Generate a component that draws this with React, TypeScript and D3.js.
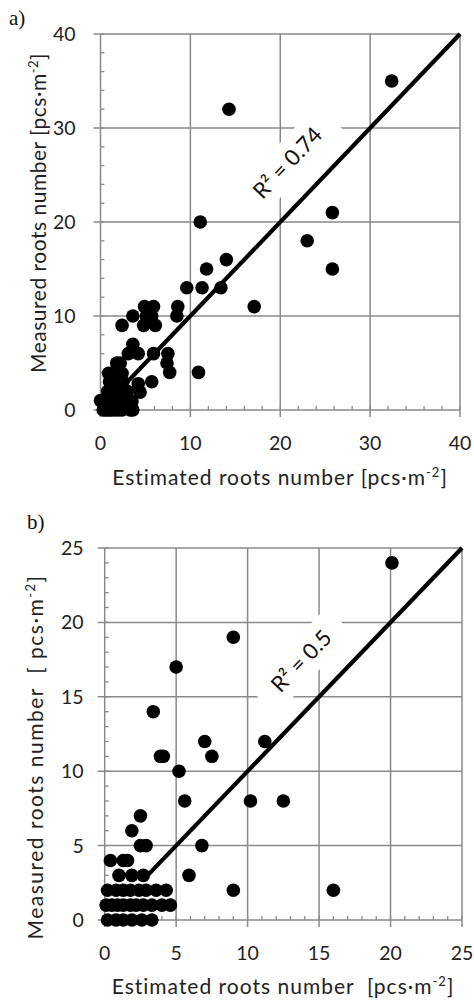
import React, { useRef, useEffect } from 'react';
import * as d3 from 'd3';

type Pt = [number, number];

// panel a) estimated vs measured roots number
const rootsA: Pt[] = [
  [0, 1], [0.3, 0], [0.6, 0], [0.9, 0], [1.2, 0], [1.6, 0], [2, 0], [2.4, 0], [3.3, 0], [3.6, 0],
  [0.5, 1], [1, 1], [1.5, 1], [2, 1], [3.2, 1], [3.5, 0.9],
  [0.8, 2], [1.2, 2], [1.7, 2], [2.2, 2], [3, 2], [4.4, 1.9],
  [1, 3], [1.5, 3], [2, 3], [2.5, 3], [4.2, 2.8], [5.7, 3],
  [0.9, 3.9], [1.5, 4], [2.4, 3.9], [1.8, 5], [2.2, 5],
  [3.1, 6], [4.2, 6], [5.9, 6], [7.5, 6], [3.6, 7], [7.4, 5], [7.7, 4], [10.9, 4],
  [2.4, 9], [4.8, 9], [6.1, 9], [3.6, 10], [5.1, 10], [5.7, 10], [8.5, 10],
  [4.9, 11], [5.9, 11], [8.6, 11], [17.1, 11],
  [9.6, 13], [11.3, 13], [13.4, 13], [11.8, 15], [14, 16], [25.8, 15],
  [11.1, 20], [23, 18], [25.8, 21], [14.3, 32], [32.4, 35],
];
const trendA: Pt[] = [[3, 3], [40, 40]];
const ticksA = [0, 10, 20, 30, 40];
const minorA = d3.range(0, 40.1, 2);
const r2A = 'R² = 0.74';
const r2PosA: Pt = [20.8, 26.3];

// panel b)
const rootsB: Pt[] = [
  [0.2, 0], [0.8, 0], [1.3, 0], [1.9, 0], [2.6, 0], [3.3, 0],
  [0.1, 1], [0.5, 1], [0.9, 1], [1.3, 1], [1.8, 1], [2.2, 1], [2.7, 1], [3.3, 1], [4, 1], [4.6, 1],
  [0.2, 2], [0.8, 2], [1.3, 2], [1.8, 2], [2.4, 2], [2.9, 2], [3.6, 2], [4.3, 2], [9, 2], [16, 2],
  [1, 3], [1.9, 3], [2.7, 3], [5.9, 3],
  [0.4, 4], [1.3, 4], [1.6, 4],
  [2.5, 5], [2.9, 5], [6.8, 5], [1.9, 6], [2.5, 7],
  [5.6, 8], [10.2, 8], [12.5, 8], [5.2, 10],
  [3.9, 11], [4.1, 11], [7.5, 11], [7, 12], [11.2, 12],
  [3.4, 14], [5, 17], [9, 19], [20.1, 24],
];
const trendB: Pt[] = [[3, 3], [25, 25]];
const ticksB = [0, 5, 10, 15, 20, 25];
const minorB = d3.range(0, 25.1, 1);
const r2B = 'R² = 0.5';
const r2PosB: Pt = [13.75, 17.4];

const FONT = 'Lato, "Open Sans", sans-serif';
const GRID = '#8a8a8a';

const panels = [
  {
    letter: 'a)', letterX: 9, letterY: 25,
    data: rootsA, trend: trendA, ticks: ticksA, minor: minorA, max: 40, r2: r2A, r2Pos: r2PosA,
    x0: 100.5, x1: 460, y0: 410, y1: 34, yLabelGap: 25,
    xTitle: ['Estimated roots number [pcs·m', ']'], xTitleX: 280, xTitleY: 485, xTitleW: 336,
    yTitle: ['Measured roots number [pcs·m', ']'], yTitleX: 46, yTitleY: 213, yTitleW: 320,
  },
  {
    letter: 'b)', letterX: 27, letterY: 529,
    data: rootsB, trend: trendB, ticks: ticksB, minor: minorB, max: 25, r2: r2B, r2Pos: r2PosB,
    x0: 104.7, x1: 462, y0: 920, y1: 548, yLabelGap: 21,
    xTitle: ['Estimated roots number\u00a0\u00a0[pcs·m', ']'], xTitleX: 283, xTitleY: 994, xTitleW: 343,
    yTitle: ['Measured roots number\u00a0\u00a0[ pcs·m', ']'], yTitleX: 43, yTitleY: 757, yTitleW: 365,
  },
];

// stretch letter spacing so a title spans the wanted width
const fitWidth = (t: d3.Selection<SVGTextElement, unknown, null, undefined>, target: number, chars: number) => {
  const w = (t.node() as SVGTextElement).getComputedTextLength();
  t.style('letter-spacing', `${(target - w) / chars}px`);
};

const RootsChart: React.FC = () => {
  const svgRef = useRef<SVGSVGElement>(null);

  useEffect(() => {
    if (!svgRef.current) return;
    const svg = d3.select(svgRef.current);
    svg.selectAll('*').remove();

    panels.forEach((p) => {
      const x = d3.scaleLinear().domain([0, p.max]).range([p.x0, p.x1]);
      const y = d3.scaleLinear().domain([0, p.max]).range([p.y0, p.y1]);
      const g = svg.append('g');

      // minor ticks (inside)
      g.selectAll('line.my').data(p.minor).join('line')
        .attr('x1', p.x0).attr('x2', p.x0 + 4)
        .attr('y1', (d) => y(d)).attr('y2', (d) => y(d))
        .attr('stroke', GRID).attr('stroke-width', 1.3);
      g.selectAll('line.mx').data(p.minor).join('line')
        .attr('x1', (d) => x(d)).attr('x2', (d) => x(d))
        .attr('y1', p.y0).attr('y2', p.y0 - 4)
        .attr('stroke', GRID).attr('stroke-width', 1.3);

      // gridlines with outward major ticks
      g.selectAll('line.gy').data(p.ticks).join('line')
        .attr('x1', p.x0 - 7).attr('x2', p.x1)
        .attr('y1', (d) => y(d)).attr('y2', (d) => y(d))
        .attr('stroke', GRID).attr('stroke-width', 1.5);
      g.selectAll('line.gx').data(p.ticks).join('line')
        .attr('x1', (d) => x(d)).attr('x2', (d) => x(d))
        .attr('y1', p.y1).attr('y2', p.y0 + 7)
        .attr('stroke', GRID).attr('stroke-width', 1.5);

      // tick labels
      g.selectAll('text.ty').data(p.ticks).join('text')
        .attr('x', p.x0 - p.yLabelGap).attr('y', (d) => y(d)).attr('dy', '0.36em')
        .attr('text-anchor', 'end')
        .style('font-family', FONT).style('font-size', '19.5px').attr('fill', '#222')
        .text((d) => d);
      g.selectAll('text.tx').data(p.ticks).join('text')
        .attr('x', (d) => x(d)).attr('y', p.y0 + 40)
        .attr('text-anchor', 'middle')
        .style('font-family', FONT).style('font-size', '19.5px').attr('fill', '#222')
        .text((d) => d);

      // R² label with white box, rotated along trend
      const ang = (Math.atan2(y(p.max) - y(0), x(p.max) - x(0)) * 180) / Math.PI;
      const lg = g.append('g')
        .attr('transform', `translate(${x(p.r2Pos[0])},${y(p.r2Pos[1])}) rotate(${ang})`);
      const box = lg.append('rect').attr('fill', '#fff');
      const lt = lg.append('text')
        .attr('text-anchor', 'middle').attr('dy', '0.35em')
        .style('font-family', FONT).style('font-size', '22px').attr('fill', '#111')
        .text(p.r2);
      const tw = (lt.node() as SVGTextElement).getComputedTextLength();
      box.attr('x', -tw / 2 - 18).attr('y', -19).attr('width', tw + 36).attr('height', 38);

      // trend line
      g.append('path')
        .datum(p.trend)
        .attr('fill', 'none').attr('stroke', '#000').attr('stroke-width', 4.2)
        .attr('d', d3.line<Pt>().x((d) => x(d[0])).y((d) => y(d[1])));

      // points
      g.selectAll('circle').data(p.data).join('circle')
        .attr('cx', (d) => x(d[0])).attr('cy', (d) => y(d[1]))
        .attr('r', 6.8).attr('fill', '#000');

      // axis titles
      const xt = g.append('text')
        .attr('x', p.xTitleX).attr('y', p.xTitleY).attr('text-anchor', 'middle')
        .style('font-family', FONT).style('font-size', '21px').attr('fill', '#222');
      xt.append('tspan').text(p.xTitle[0]);
      xt.append('tspan').attr('dy', -8).style('font-size', '13px').text('-2');
      xt.append('tspan').attr('dy', 8).text(p.xTitle[1]);
      fitWidth(xt as any, p.xTitleW, p.xTitle[0].length + 3);

      const yt = g.append('text')
        .attr('transform', `translate(${p.yTitleX},${p.yTitleY}) rotate(-90)`)
        .attr('text-anchor', 'middle')
        .style('font-family', FONT).style('font-size', '21px').attr('fill', '#222');
      yt.append('tspan').text(p.yTitle[0]);
      yt.append('tspan').attr('dy', -8).style('font-size', '13px').text('-2');
      yt.append('tspan').attr('dy', 8).text(p.yTitle[1]);
      fitWidth(yt as any, p.yTitleW, p.yTitle[0].length + 3);

      // panel letter
      g.append('text')
        .attr('x', p.letterX).attr('y', p.letterY)
        .style('font-family', '"Liberation Serif", "DejaVu Serif", serif').style('font-size', '21px')
        .attr('fill', '#111')
        .text(p.letter);
    });
  }, []);

  return (
    <svg ref={svgRef} width={474} height={1001}
      style={{ position: 'absolute', left: 0, top: 0, background: '#fff' }} />
  );
};

export default function App() {
  return <RootsChart />;
}
